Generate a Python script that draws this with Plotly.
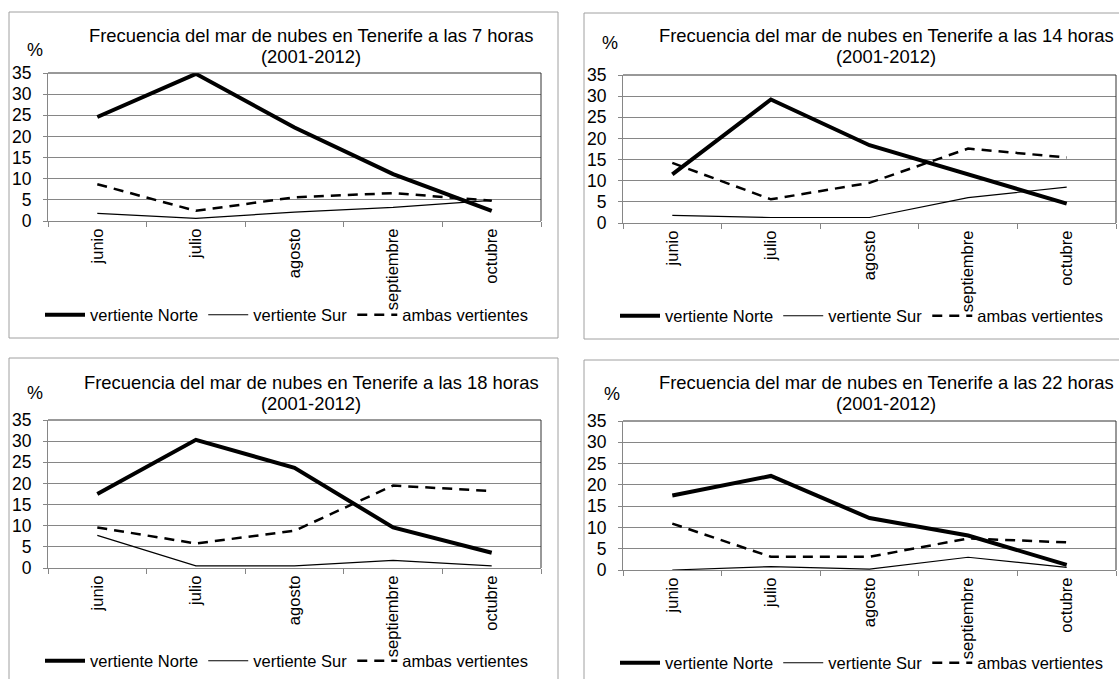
import plotly.graph_objects as go

W, H = 1119, 679

meses = ["junio", "julio", "agosto", "septiembre", "octubre"]
horas = ["7", "14", "18", "22"]

norte_7 = [24.6, 34.8, 22.1, 11.1, 2.4]
sur_7 = [1.8, 0.6, 2.1, 3.2, 4.9]
ambas_7 = [8.7, 2.4, 5.6, 6.6, 4.8]

norte_14 = [11.5, 29.2, 18.4, 11.5, 4.6]
sur_14 = [1.8, 1.3, 1.3, 6.0, 8.5]
ambas_14 = [14.2, 5.6, 9.5, 17.6, 15.5]

norte_18 = [17.5, 30.3, 23.7, 9.6, 3.6]
sur_18 = [7.7, 0.5, 0.5, 1.8, 0.5]
ambas_18 = [9.6, 5.8, 8.8, 19.5, 18.2]

norte_22 = [17.5, 22.1, 12.2, 8.1, 1.2]
sur_22 = [0.0, 0.8, 0.2, 3.0, 0.6]
ambas_22 = [10.9, 3.1, 3.1, 7.4, 6.5]

series = {
    "7": (norte_7, sur_7, ambas_7),
    "14": (norte_14, sur_14, ambas_14),
    "18": (norte_18, sur_18, ambas_18),
    "22": (norte_22, sur_22, ambas_22),
}

FONT = "Liberation Sans, Arial, sans-serif"
GRID = "#868686"


def px_x(v):
    return v / W


def px_y(v):
    return 1 - v / H


# pixel layout of each panel: plot area, outer box, title, "%" and legend
panels = [
    dict(plot=(48, 541, 73, 221), box=(9, 558, 12, 338), title=(311, 35), pct=(35, 50), leg=(40, 315)),
    dict(plot=(623, 1116, 75, 223), box=(584, 1140, 13, 339), title=(886, 35), pct=(610, 43), leg=(615, 316)),
    dict(plot=(48, 541, 420, 568), box=(9, 558, 358, 700), title=(311, 382), pct=(35, 393), leg=(40, 661)),
    dict(plot=(623, 1116, 421, 570), box=(584, 1140, 360, 700), title=(886, 382), pct=(612, 394), leg=(615, 663)),
]

fig = go.Figure()
layout = dict(
    width=W,
    height=H,
    margin=dict(l=0, r=0, t=0, b=0, autoexpand=False),
    paper_bgcolor="white",
    plot_bgcolor="white",
    font=dict(family=FONT, size=16.5, color="black"),
    shapes=[],
    annotations=[],
)

for i, (hora, p) in enumerate(zip(horas, panels)):
    n = "" if i == 0 else str(i + 1)
    xa, ya = "x" + n, "y" + n
    leg = "legend" + n
    norte, sur, ambas = series[hora]

    fig.add_trace(go.Scatter(
        x=meses, y=norte, mode="lines", name="vertiente Norte",
        line=dict(color="black", width=4), xaxis=xa, yaxis=ya, legend=leg,
    ))
    fig.add_trace(go.Scatter(
        x=meses, y=sur, mode="lines", name="vertiente Sur",
        line=dict(color="black", width=1.2), xaxis=xa, yaxis=ya, legend=leg,
    ))
    fig.add_trace(go.Scatter(
        x=meses, y=ambas, mode="lines", name="ambas vertientes",
        line=dict(color="black", width=2.5, dash="10px,7px"), xaxis=xa, yaxis=ya, legend=leg,
    ))

    x0, x1, y0, y1 = p["plot"]
    layout["xaxis" + n] = dict(
        domain=[px_x(x0), min(px_x(x1), 1)], anchor=ya,
        type="category", range=[-0.5, 4.5], tickson="boundaries",
        ticks="outside", ticklen=5, tickcolor=GRID,
        showline=True, linecolor=GRID, showgrid=False,
        tickangle=-90, tickfont=dict(size=16.5), fixedrange=True,
    )
    layout["yaxis" + n] = dict(
        domain=[px_y(y1), px_y(y0)], anchor=xa,
        range=[0, 35], tickvals=[0, 5, 10, 15, 20, 25, 30, 35],
        ticks="outside", ticklen=4, tickcolor=GRID, showline=True, linecolor=GRID,
        showgrid=True, gridcolor=GRID, gridwidth=1, zeroline=False,
        tickfont=dict(size=17.5), ticklabelstandoff=8, fixedrange=True,
    )
    # dark top and right border of the plot area
    layout["shapes"].append(dict(
        type="line", xref=xa + " domain", yref=ya + " domain",
        x0=0, x1=1, y0=1, y1=1, line=dict(color="#333333", width=1),
    ))
    layout["shapes"].append(dict(
        type="line", xref=xa + " domain", yref=ya + " domain",
        x0=1, x1=1, y0=0, y1=1, line=dict(color="#333333", width=1),
    ))
    # outer chart box
    bx0, bx1, by0, by1 = p["box"]
    layout["shapes"].append(dict(
        type="rect", xref="paper", yref="paper",
        x0=px_x(bx0), x1=px_x(bx1), y0=px_y(by1), y1=px_y(by0),
        line=dict(color="#a0a0a0", width=1), layer="below",
    ))

    tx, ty = p["title"]
    layout["annotations"].append(dict(
        text="Frecuencia del mar de nubes en Tenerife a las %s horas" % hora,
        x=px_x(tx), y=px_y(ty), xref="paper", yref="paper",
        xanchor="center", yanchor="middle", showarrow=False,
        font=dict(size=18.4),
    ))
    layout["annotations"].append(dict(
        text="(2001-2012)",
        x=px_x(tx), y=px_y(ty + 21), xref="paper", yref="paper",
        xanchor="center", yanchor="middle", showarrow=False,
        font=dict(size=18.4),
    ))
    cx, cy = p["pct"]
    layout["annotations"].append(dict(
        text="%", x=px_x(cx), y=px_y(cy), xref="paper", yref="paper",
        xanchor="center", yanchor="middle", showarrow=False,
        font=dict(size=18),
    ))

    lx, ly = p["leg"]
    layout[leg] = dict(
        orientation="h", x=px_x(lx), y=px_y(ly),
        xanchor="left", yanchor="middle", xref="paper", yref="paper",
        bgcolor="rgba(0,0,0,0)", font=dict(size=16.5), itemwidth=40,
        itemclick=False, itemdoubleclick=False,
    )

fig.update_layout(**layout)

# pin the chart to the window corner so the page margin does not shift it
pin = (
    "var d = document.getElementById('{plot_id}');"
    "d.style.position = 'fixed'; d.style.left = '0px'; d.style.top = '0px';"
)
fig.write_html("out.html", post_script=pin, config={"displayModeBar": False})
